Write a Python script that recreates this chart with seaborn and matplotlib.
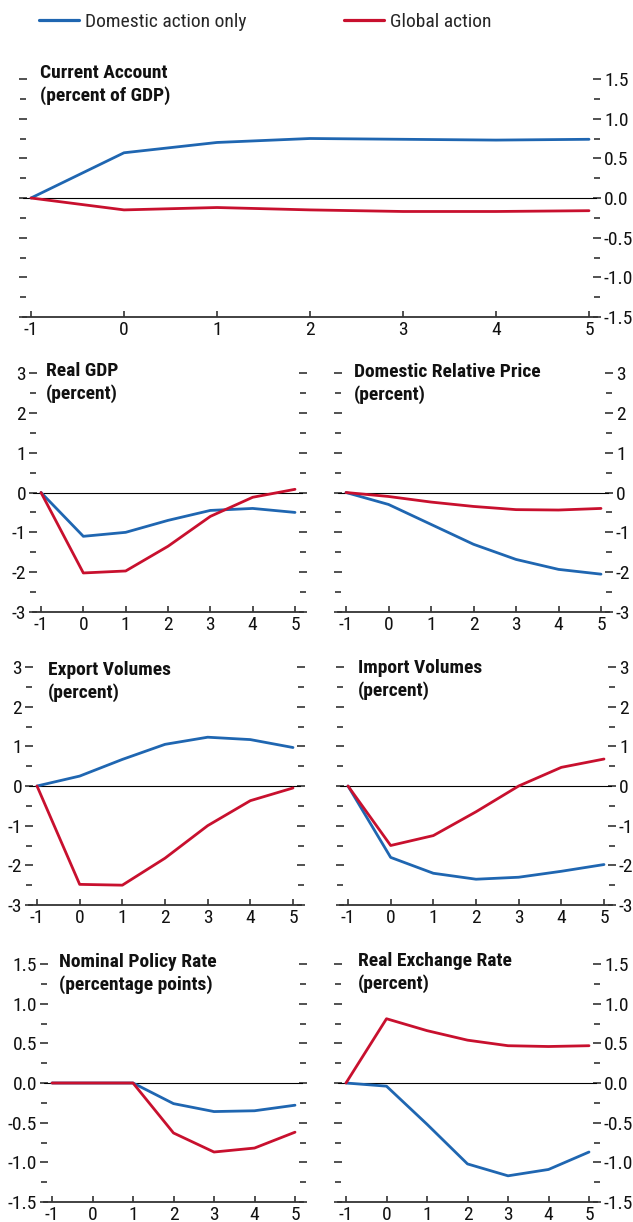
import numpy as np
import pandas as pd
import matplotlib
matplotlib.use("Agg")
import matplotlib.pyplot as plt
import seaborn as sns
from matplotlib.ticker import MultipleLocator, FormatStrFormatter
from matplotlib.lines import Line2D
from matplotlib import font_manager

sns.set_theme(style="white")
_avail = {f.name for f in font_manager.fontManager.ttflist}
_fams = [f for f in ['Roboto Condensed', 'Liberation Sans Narrow', 'Open Sans Condensed',
                     'Liberation Sans'] if f in _avail] + ['DejaVu Sans']
plt.rcParams['font.family'] = _fams
plt.rcParams['axes.unicode_minus'] = False
NARROW = _fams[0] != 'Liberation Sans'

years = [-1, 0, 1, 2, 3, 4, 5]
series_names = ["Domestic action only", "Global action"]

ca_dom = [0, 0.57, 0.70, 0.75, 0.74, 0.73, 0.74]
ca_glob = [0, -0.15, -0.12, -0.15, -0.17, -0.17, -0.16]

gdp_dom = [0, -1.10, -1.00, -0.70, -0.45, -0.40, -0.50]
gdp_glob = [0, -2.02, -1.97, -1.35, -0.60, -0.12, 0.08]

price_dom = [0, -0.30, -0.80, -1.30, -1.68, -1.93, -2.05]
price_glob = [0, -0.10, -0.24, -0.35, -0.43, -0.44, -0.40]

exp_dom = [0, 0.25, 0.67, 1.05, 1.23, 1.17, 0.97]
exp_glob = [0, -2.48, -2.50, -1.82, -1.00, -0.37, -0.05]

imp_dom = [0, -1.80, -2.20, -2.35, -2.30, -2.15, -1.98]
imp_glob = [0, -1.50, -1.25, -0.65, 0.00, 0.47, 0.68]

rate_dom = [0, 0, 0, -0.26, -0.36, -0.35, -0.28]
rate_glob = [0, 0, 0, -0.63, -0.87, -0.82, -0.62]

rer_dom = [0, -0.04, -0.52, -1.02, -1.17, -1.09, -0.87]
rer_glob = [0, 0.81, 0.66, 0.54, 0.47, 0.46, 0.47]

titles = ["Current Account\n(percent of GDP)", "Real GDP\n(percent)",
          "Domestic Relative Price\n(percent)", "Export Volumes\n(percent)",
          "Import Volumes\n(percent)", "Nominal Policy Rate\n(percentage points)",
          "Real Exchange Rate\n(percent)"]

BLUE = "#1f66b1"
RED = "#c8102e"
palette = {series_names[0]: BLUE, series_names[1]: RED}

W, H = 633, 1222
fig = plt.figure(figsize=(W / 100, H / 100), dpi=100)

TFS = 14 if NARROW else 11.5   # title size
LFS = 14 if NARROW else 12     # tick label size

# (x px at -1, x px at 5, y px top, y px bottom)
panels = [
    (ca_dom, ca_glob, titles[0], (31, 589, 79, 317), 1.5, 0.5, 0.25, "right", "%.1f", (40, 64)),
    (gdp_dom, gdp_glob, titles[1], (41, 295, 373, 612), 3, 1, 0.5, "left", "%d", (46, 362)),
    (price_dom, price_glob, titles[2], (346, 601, 373, 612), 3, 1, 0.5, "right", "%d", (354, 363)),
    (exp_dom, exp_glob, titles[3], (37, 293, 667, 905), 3, 1, 0.5, "left", "%d", (48, 661)),
    (imp_dom, imp_glob, titles[4], (348, 604, 667, 905), 3, 1, 0.5, "right", "%d", (358, 659)),
    (rate_dom, rate_glob, titles[5], (52, 295, 964, 1202), 1.5, 0.5, 0.25, "left", "%.1f", (59, 953)),
    (rer_dom, rer_glob, titles[6], (346, 589, 964, 1202), 1.5, 0.5, 0.25, "right", "%.1f", (358, 952)),
]

PADPX = 8
for dom, glob, title, (xa, xb, yt, yb), lim, major, minor, side, fmt, (tx, ty) in panels:
    ppu = (xb - xa) / 6.0
    pad = PADPX / ppu
    left = xa - PADPX
    width = (xb - xa) + 2 * PADPX
    ax = fig.add_axes([left / W, 1 - yb / H, width / W, (yb - yt) / H])
    df = pd.DataFrame({
        "year": years * 2,
        "value": list(dom) + list(glob),
        "series": [series_names[0]] * len(years) + [series_names[1]] * len(years),
    })
    ax.axhline(0, color="black", lw=0.8, zorder=1)
    sns.lineplot(data=df, x="year", y="value", hue="series", palette=palette,
                 lw=2.0, ax=ax, legend=False, zorder=3)
    ax.set_xlim(-1 - pad, 5 + pad)
    ax.set_ylim(-lim, lim)
    ax.set_xlabel("")
    ax.set_ylabel("")
    for s in ["top", "left", "right"]:
        ax.spines[s].set_visible(False)
    ax.spines["bottom"].set_color("#333333")
    ax.spines["bottom"].set_linewidth(1.3)
    ax.set_xticks(years)
    ax.set_xticklabels([str(y) for y in years])
    ax.tick_params(axis="x", direction="in", length=4, width=1.2, color="#333333",
                   labelsize=LFS, labelcolor="#111111", pad=3, bottom=True)
    ax.yaxis.set_major_locator(MultipleLocator(major))
    ax.yaxis.set_minor_locator(MultipleLocator(minor))
    ax.yaxis.set_major_formatter(FormatStrFormatter(fmt))
    ax.tick_params(axis="y", which="both", left=True, right=True, direction="inout",
                   color="#333333", labelsize=LFS, labelcolor="#111111", pad=2,
                   labelleft=(side == "left"), labelright=(side == "right"))
    ax.tick_params(axis="y", which="major", length=6, width=1.2)
    ax.tick_params(axis="y", which="minor", length=4, width=1.2)
    ax.grid(False)
    ax.patch.set_alpha(0)
    fig.text(tx / W, 1 - ty / H, title, fontsize=TFS, fontweight="bold", color="#111111",
             va="top", ha="left", linespacing=1.28)

h1 = Line2D([], [], color=BLUE, lw=2.3)
h2 = Line2D([], [], color=RED, lw=2.3)
fig.legend([h1], [series_names[0]], loc="center left", bbox_to_anchor=(39 / W, 1 - 22 / H),
           frameon=False, fontsize=LFS, handlelength=2.05, handletextpad=0.3, borderaxespad=0,
           borderpad=0)
fig.legend([h2], [series_names[1]], loc="center left", bbox_to_anchor=(344 / W, 1 - 22 / H),
           frameon=False, fontsize=LFS, handlelength=2.05, handletextpad=0.3, borderaxespad=0,
           borderpad=0)

fig.savefig("out.png", dpi=100)
